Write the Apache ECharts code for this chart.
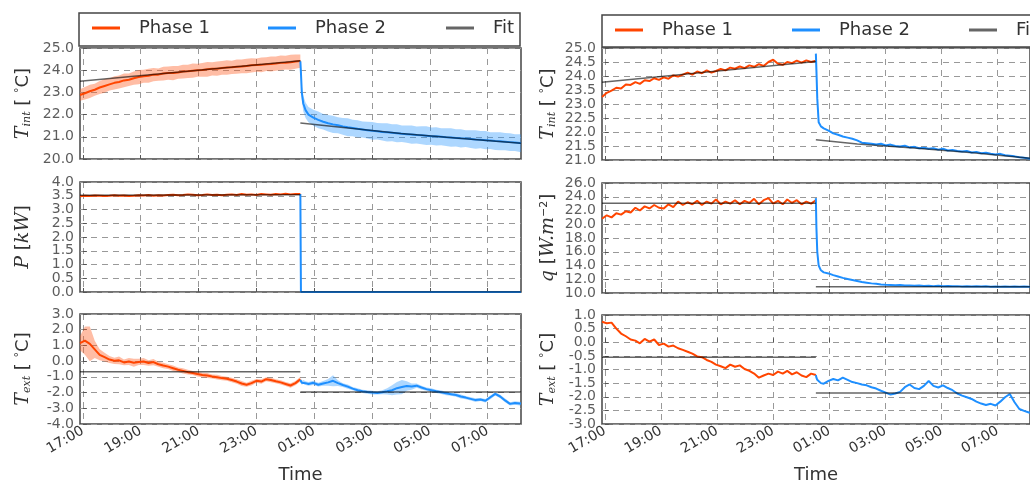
<!DOCTYPE html>
<html><head><meta charset="utf-8">
<script src="https://cdn.jsdelivr.net/npm/echarts@6/dist/echarts.min.js"></script>
<style>html,body{margin:0;padding:0;background:#fff}#c{width:1030px;height:485px}</style>
</head><body><div id="c"></div><script>
// ---- sample times (hours after 17:00) ----
const T1 = [-0.10,0.07,0.24,0.41,0.58,0.75,0.92,1.09,1.25,1.42,1.59,1.76,1.93,2.10,2.27,2.44,2.61,2.78,2.95,3.12,3.29,3.46,3.63,3.80,3.96,4.13,4.30,4.47,4.64,4.81,4.98,5.15,5.32,5.49,5.66,5.83,6.00,6.17,6.34,6.50,6.67,6.84,7.01,7.18,7.35,7.52];
const T2 = [7.52,7.54,7.57,7.62,7.70,7.80,7.97,8.14,8.31,8.48,8.65,8.82,8.99,9.16,9.33,9.50,9.67,9.84,10.01,10.18,10.35,10.52,10.69,10.86,11.03,11.20,11.37,11.54,11.71,11.88,12.05,12.22,12.39,12.56,12.73,12.90,13.07,13.24,13.41,13.58,13.75,13.92,14.09,14.26,14.43,14.60,14.77,14.94,15.11,15.15];
const FIT_T1 = [-0.10, 7.52];
const FIT_T2 = [7.52, 9, 11, 13, 15.15];
const X_TICKS = [0,2,4,6,8,10,12,14];

// ---- y tick labels per panel ----
const LTI_TICKS = [20,21,22,23,24,25];
const LP_TICKS = [0,0.5,1,1.5,2,2.5,3,3.5,4];
const LTE_TICKS = [-4,-3,-2,-1,0,1,2,3];
const RTI_TICKS = [21,21.5,22,22.5,23,23.5,24,24.5,25];
const RQ_TICKS = [10,12,14,16,18,20,22,24,26];
const RTE_TICKS = [-3,-2.5,-2,-1.5,-1,-0.5,0,0.5,1];

// ---- left column: T_int (with band half-widths) ----
const LTI1 = [22.88,22.96,23.05,23.12,23.22,23.29,23.36,23.43,23.47,23.54,23.57,23.64,23.69,23.73,23.75,23.80,23.80,23.85,23.87,23.87,23.90,23.94,23.95,23.98,24.00,24.01,24.04,24.06,24.07,24.10,24.12,24.13,24.16,24.17,24.19,24.22,24.23,24.24,24.27,24.28,24.30,24.33,24.34,24.36,24.39,24.41];
const LTI2 = [24.40,23.90,23.00,22.50,22.20,22.00,21.86,21.76,21.68,21.61,21.56,21.52,21.47,21.43,21.40,21.36,21.33,21.30,21.27,21.25,21.22,21.20,21.18,21.16,21.14,21.12,21.10,21.08,21.07,21.05,21.03,21.02,21.00,20.98,20.97,20.95,20.93,20.92,20.90,20.88,20.87,20.85,20.83,20.81,20.80,20.78,20.76,20.74,20.72,20.71];
const LTI1W = [0.26,0.28,0.30,0.27,0.29,0.31,0.28,0.30,0.29,0.31,0.28,0.30,0.32,0.29,0.31,0.30,0.28,0.31,0.30,0.32,0.29,0.31,0.30,0.32,0.29,0.31,0.33,0.30,0.32,0.31,0.33,0.30,0.32,0.31,0.33,0.32,0.30,0.33,0.31,0.34,0.32,0.33,0.31,0.34,0.32,0.30];
const LTI2W = [0.10,0.25,0.30,0.35,0.35,0.34,0.36,0.38,0.35,0.37,0.39,0.36,0.38,0.40,0.37,0.39,0.36,0.38,0.40,0.37,0.39,0.41,0.38,0.40,0.37,0.39,0.41,0.38,0.40,0.42,0.39,0.41,0.38,0.40,0.42,0.39,0.41,0.38,0.40,0.42,0.39,0.41,0.38,0.40,0.41,0.39,0.40,0.38,0.40,0.39];
const LTI_FIT1 = [23.50, 24.43];
const LTI_FIT2 = [21.62, 21.42, 21.15, 20.94, 20.71];

// ---- left column: P ----
const LP1 = [3.48,3.50,3.49,3.51,3.50,3.49,3.50,3.52,3.50,3.51,3.49,3.50,3.52,3.51,3.53,3.50,3.52,3.51,3.53,3.54,3.52,3.53,3.55,3.54,3.52,3.53,3.55,3.53,3.54,3.52,3.54,3.55,3.53,3.56,3.54,3.55,3.53,3.56,3.55,3.54,3.56,3.55,3.57,3.55,3.56,3.56];
const LP2 = [3.56,0,0,0,0,0,0,0,0,0,0,0,0,0,0,0,0,0,0,0,0,0,0,0,0,0,0,0,0,0,0,0,0,0,0,0,0,0,0,0,0,0,0,0,0,0,0,0,0,0];
const LP_FIT1 = [3.52, 3.54];
const LP_FIT2 = [0, 0, 0, 0, 0];

// ---- left column: T_ext ----
const LTE1 = [1.15,1.30,1.10,0.75,0.40,0.25,0.10,0.02,0.05,-0.08,-0.02,-0.10,-0.05,-0.02,-0.12,-0.06,-0.20,-0.28,-0.35,-0.45,-0.55,-0.62,-0.70,-0.75,-0.82,-0.88,-0.92,-0.98,-1.02,-1.08,-1.12,-1.20,-1.30,-1.42,-1.50,-1.40,-1.25,-1.30,-1.15,-1.20,-1.28,-1.35,-1.45,-1.55,-1.40,-1.15];
const LTE2 = [-1.20,-1.30,-1.38,-1.32,-1.40,-1.45,-1.38,-1.50,-1.42,-1.35,-1.25,-1.40,-1.52,-1.62,-1.75,-1.85,-1.92,-1.97,-2.00,-2.02,-1.98,-1.92,-1.85,-1.72,-1.65,-1.58,-1.62,-1.56,-1.68,-1.78,-1.85,-1.92,-1.98,-2.05,-2.10,-2.15,-2.25,-2.32,-2.40,-2.48,-2.44,-2.52,-2.30,-2.08,-2.25,-2.50,-2.72,-2.66,-2.70,-2.70];
const LTE1W = [0.45,0.90,1.10,0.55,0.35,0.28,0.22,0.20,0.24,0.18,0.22,0.25,0.20,0.22,0.18,0.20,0.16,0.18,0.15,0.17,0.14,0.16,0.15,0.13,0.15,0.14,0.16,0.13,0.15,0.14,0.13,0.15,0.14,0.16,0.13,0.15,0.12,0.14,0.13,0.15,0.12,0.14,0.13,0.15,0.14,0.15];
const LTE2W = [0.10,0.10,0.12,0.12,0.12,0.12,0.14,0.12,0.15,0.22,0.35,0.18,0.12,0.13,0.11,0.12,0.10,0.11,0.12,0.10,0.12,0.20,0.32,0.40,0.45,0.30,0.20,0.14,0.12,0.11,0.12,0.10,0.11,0.12,0.10,0.11,0.12,0.10,0.11,0.12,0.10,0.11,0.12,0.10,0.11,0.12,0.10,0.11,0.12,0.10];
const LTE_FIT1 = [-0.68, -0.68];
const LTE_FIT2 = [-1.97, -1.97, -1.97, -1.97, -1.97];

// ---- right column: T_int ----
const RTI1 = [23.25,23.40,23.48,23.58,23.55,23.70,23.68,23.78,23.72,23.85,23.82,23.92,23.86,23.95,23.90,24.02,23.98,24.05,24.12,24.05,24.16,24.10,24.20,24.12,24.18,24.25,24.20,24.30,24.26,24.34,24.28,24.38,24.33,24.42,24.36,24.50,24.58,24.44,24.40,24.50,24.46,24.55,24.48,24.56,24.50,24.55];
const RTI2 = [24.80,24.20,23.20,22.35,22.20,22.13,22.05,21.95,21.90,21.84,21.80,21.76,21.70,21.62,21.60,21.58,21.55,21.58,21.52,21.55,21.50,21.48,21.51,21.45,21.47,21.42,21.44,21.40,21.42,21.37,21.40,21.34,21.36,21.32,21.30,21.32,21.27,21.29,21.24,21.26,21.22,21.20,21.22,21.17,21.15,21.13,21.10,21.08,21.05,21.04];
const RTI_FIT1 = [23.78, 24.52];
const RTI_FIT2 = [21.72, 21.57, 21.43, 21.27, 21.06];

// ---- right column: q ----
const RQ1 = [20.8,21.3,21.0,21.6,21.4,21.9,21.7,22.4,22.0,22.6,22.3,22.8,22.4,22.3,22.9,22.5,23.3,22.8,23.2,22.9,23.4,22.8,23.3,23.0,23.6,22.9,23.3,23.0,23.5,22.9,23.4,23.1,23.7,22.9,23.5,23.8,23.0,23.4,22.9,23.6,23.1,23.5,22.9,23.3,23.0,23.5];
const RQ2 = [23.8,19.5,16.0,14.0,13.3,13.0,12.85,12.6,12.4,12.2,12.05,11.9,11.75,11.6,11.5,11.4,11.35,11.25,11.2,11.18,11.12,11.15,11.08,11.1,11.05,11.08,11.02,11.06,11.0,11.04,10.98,11.02,10.97,11.0,10.95,10.99,10.94,10.98,10.93,10.97,10.92,10.96,10.92,10.95,10.91,10.94,10.9,10.93,10.9,10.9];
const RQ_FIT1 = [23.05, 23.05];
const RQ_FIT2 = [10.92, 10.92, 10.92, 10.92, 10.92];

// ---- right column: T_ext ----
const RTE1 = [0.75,0.70,0.72,0.50,0.32,0.22,0.10,0.06,-0.04,0.12,0.02,0.10,-0.10,-0.05,-0.16,-0.12,-0.22,-0.28,-0.35,-0.42,-0.52,-0.55,-0.65,-0.72,-0.82,-0.88,-0.95,-0.82,-0.90,-0.85,-0.98,-1.05,-1.15,-1.30,-1.22,-1.15,-1.20,-1.08,-1.15,-1.05,-1.18,-1.10,-1.22,-1.28,-1.15,-1.20];
const RTE2 = [-1.20,-1.30,-1.38,-1.45,-1.50,-1.52,-1.42,-1.35,-1.40,-1.30,-1.38,-1.46,-1.50,-1.55,-1.58,-1.65,-1.70,-1.78,-1.85,-1.92,-1.88,-1.82,-1.65,-1.55,-1.68,-1.72,-1.60,-1.42,-1.60,-1.66,-1.58,-1.68,-1.76,-1.88,-1.96,-2.02,-2.08,-2.18,-2.25,-2.30,-2.26,-2.32,-2.18,-2.02,-1.90,-2.20,-2.45,-2.52,-2.58,-2.58];
const RTE_FIT1 = [-0.55, -0.55];
const RTE_FIT2 = [-1.86, -1.86, -1.86, -1.86, -1.86];

const SERIES_NAMES = ['Phase 1', 'Phase 2', 'Fit'];

// ---------------- chart ----------------
const ORANGE = '#ff4500', BLUE = '#1e8fff', FITC = 'rgba(0,0,0,0.6)';
const BAND1 = 'rgba(255,90,30,0.40)', BAND2 = 'rgba(40,150,255,0.38)';
const FONT = 'DejaVu Sans';
const XMIN = -0.1, XMAX = 15.15;
const zip = (t, v) => t.map((x, i) => [x, v[i]]);
const hhmm = v => { const h = (17 + Math.round(v)) % 24; return (h < 10 ? '0' : '') + h + ':00'; };

const nameRich = {
  t: {fontFamily: 'DejaVu Serif', fontStyle: 'italic', fontSize: 19, color: '#333'},
  s: {fontFamily: 'DejaVu Serif', fontStyle: 'italic', fontSize: 11, color: '#333', verticalAlign: 'bottom'},
  b: {fontFamily: FONT, fontSize: 18, color: '#333'},
  d: {fontFamily: FONT, fontSize: 11, color: '#333', verticalAlign: 'top'}
};

const panels = [
  {col:0,row:0,p1:LTI1,p2:LTI2,w1:LTI1W,w2:LTI2W,f1:LTI_FIT1,f2:LTI_FIT2,ticks:LTI_TICKS,interval:1,name:'{t|T}{s|int}{b| [ }{d|°}{b|C]}'},
  {col:0,row:1,p1:LP1,p2:LP2,f1:LP_FIT1,f2:LP_FIT2,ticks:LP_TICKS,interval:0.5,name:'{t|P}{b| [}{t|kW}{b|]}'},
  {col:0,row:2,p1:LTE1,p2:LTE2,w1:LTE1W,w2:LTE2W,f1:LTE_FIT1,f2:LTE_FIT2,ticks:LTE_TICKS,interval:1,name:'{t|T}{s|ext}{b| [ }{d|°}{b|C]}'},
  {col:1,row:0,p1:RTI1,p2:RTI2,f1:RTI_FIT1,f2:RTI_FIT2,ticks:RTI_TICKS,interval:0.5,name:'{t|T}{s|int}{b| [ }{d|°}{b|C]}'},
  {col:1,row:1,p1:RQ1,p2:RQ2,f1:RQ_FIT1,f2:RQ_FIT2,ticks:RQ_TICKS,interval:2,name:'{t|q}{b| [}{t|W.m}{d|−2}{b|]}'},
  {col:1,row:2,p1:RTE1,p2:RTE2,f1:RTE_FIT1,f2:RTE_FIT2,ticks:RTE_TICKS,interval:0.5,name:'{t|T}{s|ext}{b| [ }{d|°}{b|C]}'}
];

const GRID_LEFT = [80, 602];
const GRID_TOP = [[48, 182, 314], [48, 183, 315]];
const GRID_H = [[111, 110, 112], [112, 110, 111]];
const NAME_GAP = [47, 44];

const grids = [], xAxes = [], yAxes = [], series = [];
function bandRender(tArr, lo, hi, color) {
  return function (params, api) {
    if (params.dataIndex !== 0) return null;
    const pts = [];
    for (let i = 0; i < tArr.length; i++) pts.push(api.coord([tArr[i], hi[i]]));
    for (let i = tArr.length - 1; i >= 0; i--) pts.push(api.coord([tArr[i], lo[i]]));
    return {type: 'polygon', shape: {points: pts}, style: {fill: color}, silent: true};
  };
}
panels.forEach((p, k) => {
  const bottom = p.row === 2;
  const ymin = p.ticks[0], ymax = p.ticks[p.ticks.length - 1];
  grids.push({left: GRID_LEFT[p.col], top: GRID_TOP[p.col][p.row], width: 441, height: GRID_H[p.col][p.row],
    show: true, borderColor: '#444', borderWidth: 1.5, backgroundColor: 'transparent', containLabel: false});
  xAxes.push({gridIndex: k, type: 'value', min: XMIN, max: XMAX,
    axisLine: {show: false},
    axisTick: {show: true, inside: true, length: 4, customValues: X_TICKS, lineStyle: {color: '#555'}},
    axisLabel: {show: bottom, customValues: X_TICKS, formatter: hhmm, rotate: 30, fontSize: 14, color: '#333', fontFamily: FONT, margin: 6},
    splitLine: {show: true, lineStyle: {type: [6, 5], color: '#999', width: 1}},
    name: bottom ? 'Time' : '', nameLocation: 'middle', nameGap: 42,
    nameTextStyle: {fontSize: 18, color: '#333', fontFamily: FONT}});
  yAxes.push({gridIndex: k, type: 'value', min: ymin, max: ymax, interval: p.interval,
    axisLine: {show: false},
    axisTick: {show: true, inside: true, length: 4, lineStyle: {color: '#555'}},
    axisLabel: {show: false},
    splitLine: {show: true, lineStyle: {type: [6, 5], color: '#999', width: 1}},
    name: p.name, nameLocation: 'middle', nameGap: NAME_GAP[p.col],
    nameTextStyle: {fontSize: 18, color: '#333', fontFamily: FONT, rich: nameRich}});
  // y tick labels drawn through the axis scale
  series.push({type: 'scatter', xAxisIndex: k, yAxisIndex: k, symbolSize: 0, silent: true, z: 6, clip: false,
    data: p.ticks.map(v => [XMIN, v]),
    label: {show: true, position: 'left', distance: 6, fontSize: 14, color: '#333', fontFamily: FONT,
      formatter: q => q.value[1].toFixed(1)}});
  if (p.w1) {
    const lo1 = p.p1.map((v, i) => v - p.w1[i]), hi1 = p.p1.map((v, i) => v + p.w1[i]);
    const lo2 = p.p2.map((v, i) => v - p.w2[i]), hi2 = p.p2.map((v, i) => v + p.w2[i]);
    series.push({type: 'custom', name: 'band1', xAxisIndex: k, yAxisIndex: k, z: 1, silent: true,
      data: T1.map((t, i) => [t, lo1[i], hi1[i]]), renderItem: bandRender(T1, lo1, hi1, BAND1)});
    series.push({type: 'custom', name: 'band2', xAxisIndex: k, yAxisIndex: k, z: 1, silent: true,
      data: T2.map((t, i) => [t, lo2[i], hi2[i]]), renderItem: bandRender(T2, lo2, hi2, BAND2)});
  }
  const common = {type: 'line', xAxisIndex: k, yAxisIndex: k, symbol: 'none', showSymbol: false, animation: false};
  series.push(Object.assign({}, common, {name: SERIES_NAMES[0], z: 2, color: ORANGE, lineStyle: {width: 2, color: ORANGE}, data: zip(T1, p.p1)}));
  series.push(Object.assign({}, common, {name: SERIES_NAMES[1], z: 2, color: BLUE, lineStyle: {width: 2, color: BLUE}, data: zip(T2, p.p2)}));
  series.push(Object.assign({}, common, {name: SERIES_NAMES[2], z: 3, color: FITC, lineStyle: {width: 1.5, color: FITC}, data: zip(FIT_T1, p.f1)}));
  series.push(Object.assign({}, common, {name: SERIES_NAMES[2], z: 3, color: FITC, lineStyle: {width: 1.5, color: FITC}, data: zip(FIT_T2, p.f2)}));
});

const LEG_X = [[92, 268, 446], [615, 792, 969]];
const LEG_Y = [19, 21];
const legends = [];
[0, 1].forEach(c => SERIES_NAMES.forEach((nm, j) => legends.push({
  data: [nm], left: LEG_X[c][j], top: LEG_Y[c], padding: 0, itemWidth: 28, itemHeight: 3, icon: 'rect',
  selectedMode: false, z: 5,
  textStyle: {fontSize: 18, color: '#333', fontFamily: FONT, padding: [0, 0, 0, 14]}
})));

const chart = echarts.init(document.getElementById('c'), null, {renderer: 'canvas'});
chart.setOption({
  animation: false,
  backgroundColor: '#fff',
  grid: grids, xAxis: xAxes, yAxis: yAxes, series: series, legend: legends,
  graphic: [
    {type: 'rect', x: 79, y: 13, shape: {x: 0, y: 0, width: 441, height: 33}, style: {fill: '#fff', stroke: '#444', lineWidth: 1.5}, z: 0},
    {type: 'rect', x: 602, y: 15, shape: {x: 0, y: 0, width: 460, height: 32}, style: {fill: '#fff', stroke: '#444', lineWidth: 1.5}, z: 0}
  ]
});
</script></body></html>
